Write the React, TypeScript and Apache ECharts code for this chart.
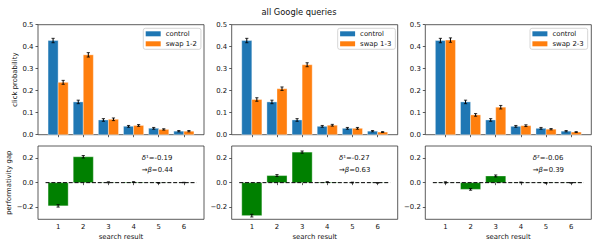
import React, { useEffect, useRef } from "react";
import * as echarts from "echarts";

const categories = [1, 2, 3, 4, 5, 6];
const control = [0.428, 0.149, 0.067, 0.038, 0.029, 0.016];
const controlErr = [0.01, 0.008, 0.006, 0.004, 0.004, 0.003];
const swap12 = [0.238, 0.363, 0.07, 0.042, 0.024, 0.016];
const swap12Err = [0.009, 0.01, 0.006, 0.004, 0.003, 0.003];
const swap13 = [0.16, 0.209, 0.318, 0.043, 0.029, 0.012];
const swap13Err = [0.008, 0.008, 0.009, 0.004, 0.004, 0.002];
const swap23 = [0.43, 0.09, 0.125, 0.041, 0.025, 0.012];
const swap23Err = [0.01, 0.006, 0.008, 0.004, 0.003, 0.002];
const gap12 = [-0.19, 0.212, 0.003, 0.005, -0.002, 0.001];
const gap12Err = [0.01, 0.01, 0.004, 0.003, 0.003, 0.002];
const gap13 = [-0.27, 0.058, 0.25, 0.005, 0.001, -0.002];
const gap13Err = [0.011, 0.008, 0.009, 0.003, 0.003, 0.002];
const gap23 = [0.002, -0.055, 0.055, 0.002, -0.002, -0.002];
const gap23Err = [0.005, 0.007, 0.008, 0.003, 0.003, 0.002];
const swapNames = ["swap 1-2", "swap 1-3", "swap 2-3"];
const annotations = [
  ["{i|δ}¹=-0.19", "→{i|β}=0.44"],
  ["{i|δ}¹=-0.27", "→{i|β}=0.63"],
  ["{i|δ}²=-0.06", "→{i|β}=0.39"],
];
const yTopTicks = [0, 0.1, 0.2, 0.3, 0.4, 0.5];
const yGapTicks = [-0.2, 0, 0.2];

const FONT = "DejaVu Sans";
const FS = 6.9;
const TXT = "#111";

function makeBarSeries(
  name: string,
  vals: number[],
  errs: number[],
  xi: number,
  yi: number,
  color: string,
  offset: number,
  width: number
) {
  return {
    type: "custom",
    name,
    xAxisIndex: xi,
    yAxisIndex: yi,
    itemStyle: { color },
    data: categories.map((c, i) => [c, vals[i], errs[i]]),
    renderItem: (params: any, api: any) => {
      const x = api.value(0) + offset;
      const v = api.value(1);
      const e = api.value(2);
      const a = api.coord([x - width / 2, 0]);
      const b = api.coord([x + width / 2, v]);
      const top = api.coord([x, v + e]);
      const bot = api.coord([x, v - e]);
      const cap = 1.6;
      return {
        type: "group",
        children: [
          {
            type: "rect",
            shape: {
              x: Math.min(a[0], b[0]),
              y: Math.min(a[1], b[1]),
              width: Math.abs(b[0] - a[0]),
              height: Math.abs(b[1] - a[1]),
            },
            style: { fill: color, stroke: "rgba(255,255,255,0.45)", lineWidth: 0.8 },
          },
          {
            type: "line",
            shape: { x1: top[0], y1: top[1], x2: bot[0], y2: bot[1] },
            style: { stroke: "#000", lineWidth: 1 },
            z2: 10,
          },
          {
            type: "line",
            shape: { x1: top[0] - cap, y1: top[1], x2: top[0] + cap, y2: top[1] },
            style: { stroke: "#000", lineWidth: 0.8 },
            z2: 10,
          },
          {
            type: "line",
            shape: { x1: bot[0] - cap, y1: bot[1], x2: bot[0] + cap, y2: bot[1] },
            style: { stroke: "#000", lineWidth: 0.8 },
            z2: 10,
          },
        ],
      };
    },
  };
}

export default function App() {
  const ref = useRef<HTMLDivElement>(null);
  useEffect(() => {
    if (!ref.current) return;
    const chart = echarts.init(ref.current, null, { renderer: "svg" });
    const lefts = [38, 231.7, 425.3];
    const W = 166;
    const grids: any[] = [];
    const xAxes: any[] = [];
    const yAxes: any[] = [];
    const series: any[] = [];
    const legends: any[] = [];
    const graphics: any[] = [];
    const swaps = [swap12, swap13, swap23];
    const swapErrs = [swap12Err, swap13Err, swap23Err];
    const gaps = [gap12, gap13, gap23];
    const gapErrs = [gap12Err, gap13Err, gap23Err];
    const legendLefts = [143.3, 337.7, 530];

    for (let p = 0; p < 3; p++) {
      grids.push({
        left: lefts[p], top: 24.7, width: W, height: 110,
        show: true, borderColor: "#333", borderWidth: 0.8, backgroundColor: "transparent",
      });
      grids.push({
        left: lefts[p], top: 146, width: W, height: 73.3,
        show: true, borderColor: "#333", borderWidth: 0.8, backgroundColor: "transparent",
      });
      const gTop = p * 2;
      const gBot = p * 2 + 1;
      const baseX = {
        type: "value", min: 0.2, max: 6.8,
        axisLine: { show: false },
        splitLine: { show: false },
        axisTick: { show: true, customValues: categories, length: 2.5, lineStyle: { color: "#333", width: 0.8 } },
      };
      xAxes.push({ ...baseX, gridIndex: gTop, axisLabel: { show: false } });
      xAxes.push({
        ...baseX, gridIndex: gBot,
        axisLabel: { show: true, customValues: categories, fontSize: FS, color: TXT, fontFamily: FONT, margin: 4.5 },
        name: "search result", nameLocation: "middle", nameGap: 14,
        nameTextStyle: { fontSize: FS, color: TXT, fontFamily: FONT },
      });
      yAxes.push({
        type: "value", gridIndex: gTop, min: 0, max: 0.5, interval: 0.1,
        axisLine: { show: false }, splitLine: { show: false },
        axisTick: { show: true, customValues: yTopTicks, length: 2.5, lineStyle: { color: "#333", width: 0.8 } },
        axisLabel: {
          customValues: yTopTicks,
          formatter: (v: number) => v.toFixed(1), fontSize: FS, color: TXT, fontFamily: FONT, margin: 4.5,
        },
        ...(p === 0
          ? {
              name: "click probability", nameLocation: "middle", nameGap: 15,
              nameTextStyle: { fontSize: FS, color: TXT, fontFamily: FONT },
            }
          : {}),
      });
      yAxes.push({
        type: "value", gridIndex: gBot, min: -0.3, max: 0.3,
        axisLine: { show: false }, splitLine: { show: false },
        axisTick: { show: true, customValues: yGapTicks, length: 2.5, lineStyle: { color: "#333", width: 0.8 } },
        axisLabel: {
          customValues: yGapTicks,
          formatter: (v: number) => (v < 0 ? "\u2212" + Math.abs(v).toFixed(1) : v.toFixed(1)),
          fontSize: FS, color: TXT, fontFamily: FONT, margin: 4.5,
        },
        ...(p === 0
          ? {
              name: "performativity gap", nameLocation: "middle", nameGap: 15,
              nameTextStyle: { fontSize: FS, color: TXT, fontFamily: FONT },
            }
          : {}),
      });

      series.push(makeBarSeries("control", control, controlErr, gTop, gTop, "#1f77b4", -0.2, 0.4));
      series.push(makeBarSeries(swapNames[p], swaps[p], swapErrs[p], gTop, gTop, "#ff7f0e", 0.2, 0.4));
      series.push(makeBarSeries("gap" + p, gaps[p], gapErrs[p], gBot, gBot, "#008000", 0, 0.8));
      series.push({
        type: "line", xAxisIndex: gBot, yAxisIndex: gBot, symbol: "none", silent: true, z: 5,
        data: [[0.5, 0], [6.5, 0]],
        lineStyle: { color: "#000", width: 1, type: [4, 1.8] },
      });

      legends.push({
        left: legendLefts[p], top: 28.3, orient: "vertical",
        data: ["control", swapNames[p]],
        icon: "rect", itemWidth: 15, itemHeight: 5, itemGap: 3,
        textStyle: { fontSize: FS, color: TXT, fontFamily: FONT },
        borderColor: "#ccc", borderWidth: 0.8, borderRadius: 2,
        padding: [2, 4, 2, 2.4], backgroundColor: "#fff",
      });

      const annX = [141.7, 339, 532.7][p];
      graphics.push({
        type: "text", x: annX, y: 152,
        style: {
          text: annotations[p][0] + "\n" + annotations[p][1],
          fontSize: FS, fontFamily: FONT, fill: TXT, lineHeight: 12.3, verticalAlign: "top",
          rich: {
            i: { fontStyle: "italic", fontSize: FS, fontFamily: FONT, fill: TXT, lineHeight: 12.3 },
          },
        },
      });
    }

    chart.setOption({
      animation: false,
      backgroundColor: "#fff",
      textStyle: { fontFamily: FONT },
      title: {
        text: "all Google queries", left: "center", top: 2.5,
        textStyle: { fontSize: 8.3, fontWeight: "normal", color: TXT, fontFamily: FONT },
      },
      grid: grids,
      xAxis: xAxes,
      yAxis: yAxes,
      legend: legends,
      series,
      graphic: graphics,
    });
    return () => chart.dispose();
  }, []);
  return (
    <div
      ref={ref}
      style={{ position: "absolute", left: 0, top: 0, width: 598, height: 249 }}
    />
  );
}
